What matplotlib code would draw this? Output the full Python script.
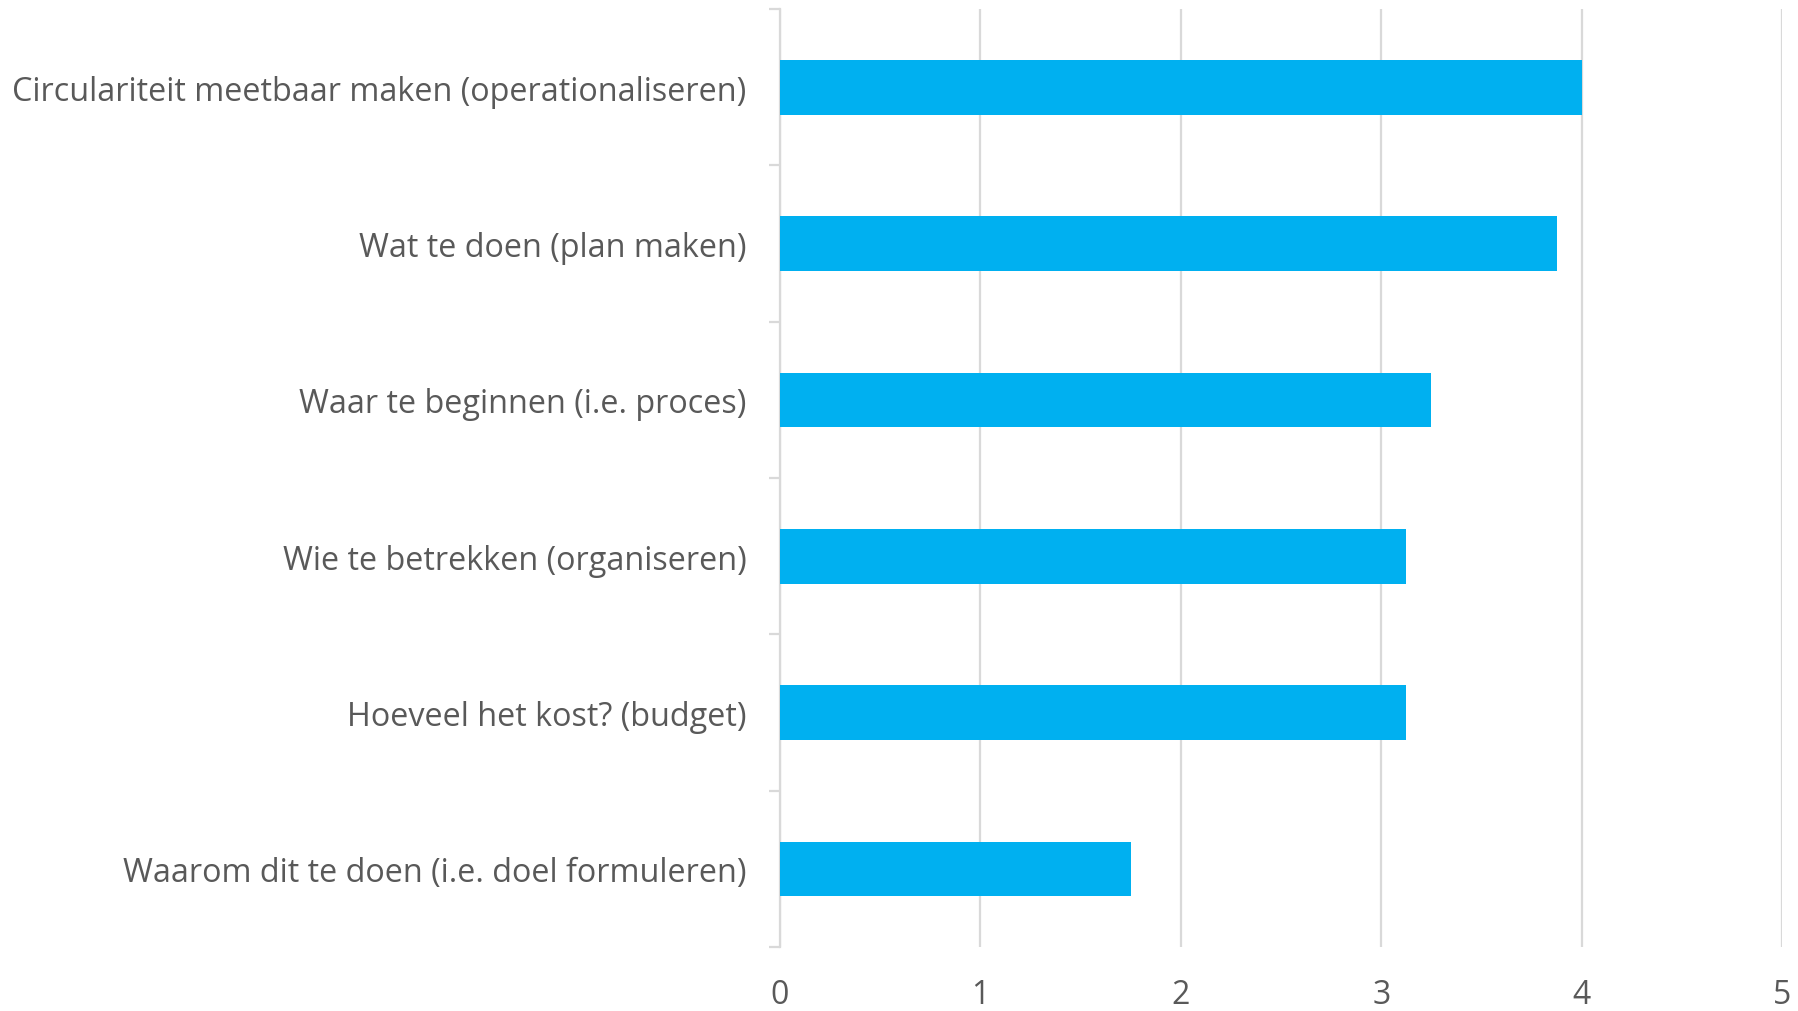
import numpy as np
import matplotlib.pyplot as plt
from matplotlib.ticker import FixedLocator

categories = [
    "Circulariteit meetbaar maken (operationaliseren)",
    "Wat te doen (plan maken)",
    "Waar te beginnen (i.e. proces)",
    "Wie te betrekken (organiseren)",
    "Hoeveel het kost? (budget)",
    "Waarom dit te doen (i.e. doel formuleren)",
]
scores = [4.0, 3.875, 3.25, 3.125, 3.125, 1.75]
x_ticks = [0, 1, 2, 3, 4, 5]

bar_color = "#00B0F0"
grid_color = "#D9D9D9"
text_color = "#595959"

plt.rcParams['font.family'] = ['Open Sans', 'DejaVu Sans']

fig = plt.figure(figsize=(17.98, 10.12), dpi=100)
ax = fig.add_axes([0.4338, 0.0632, 0.9911 - 0.4338, 0.9901 - 0.0632])

n = len(categories)
pos = np.arange(n)
ax.barh(pos, scores, height=0.35, color=bar_color, zorder=3)

ax.set_xlim(0, 5)
ax.set_ylim(n - 0.5, -0.5)
ax.set_xticks(x_ticks)
ax.set_xticklabels([str(t) for t in x_ticks])
ax.set_yticks(pos)
ax.set_yticklabels(categories)
ax.yaxis.set_minor_locator(FixedLocator(np.arange(n + 1) - 0.5))

ax.grid(axis='x', color=grid_color, linewidth=1.6, zorder=0)
for s in ['top', 'right', 'bottom']:
    ax.spines[s].set_visible(False)
ax.spines['left'].set_color(grid_color)
ax.spines['left'].set_linewidth(1.6)

ax.tick_params(axis='x', length=0, pad=22, labelsize=23, labelcolor=text_color)
ax.tick_params(axis='y', which='major', length=0, pad=24, labelsize=23.3, labelcolor=text_color)
ax.tick_params(axis='y', which='minor', length=8, width=1.6, color=grid_color)

fig.savefig("out.png", dpi=100, facecolor="white")
